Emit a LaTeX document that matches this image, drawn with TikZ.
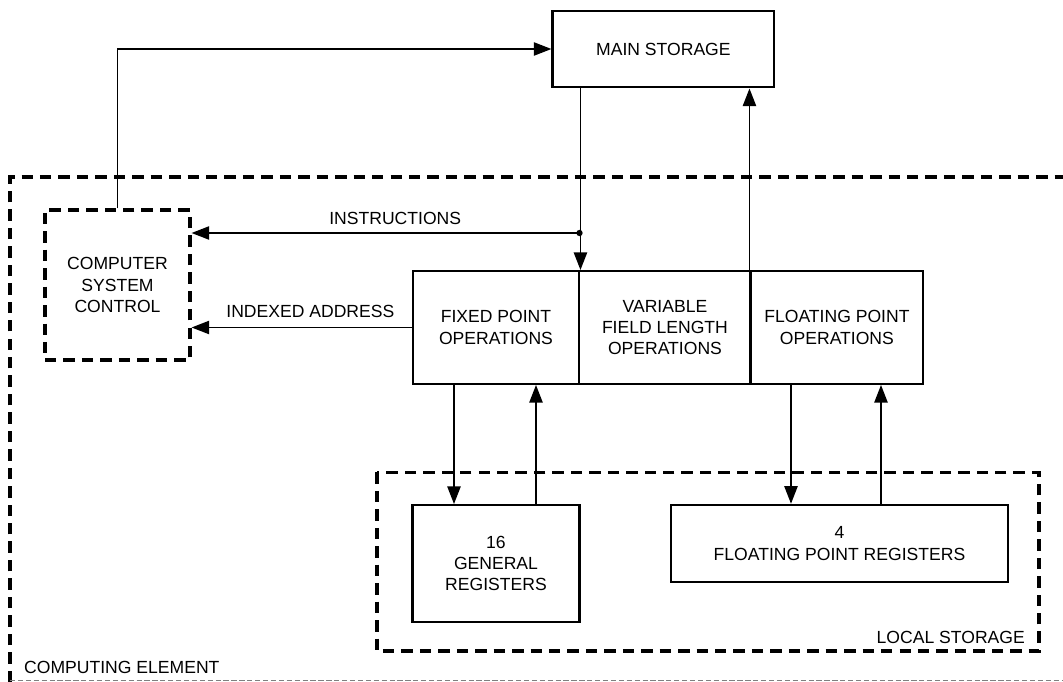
\documentclass[tikz,border=0pt]{standalone}
\usepackage{fontspec}
\setmainfont{Liberation Sans}
\usetikzlibrary{arrows.meta,positioning}

\tikzset{
  unit/.style={draw, line width=1.4pt, inner sep=0pt, align=center},
  ctrl/.style={draw, line width=1.8pt, dash pattern=on 6.5pt off 4pt, inner sep=0pt, align=center},
  zone/.style={line width=2pt, dash pattern=on 6.5pt off 4pt},
  flow/.style={line width=1pt, -{Triangle[length=10pt,width=7.5pt]}},
}

\begin{document}
\begin{tikzpicture}[x=0.02cm, y=-0.02cm, font=\fontsize{10}{12.2}\selectfont]
  \useasboundingbox (0,0) rectangle (1063,682);

  % computing element and local storage
  \draw[zone] (10,682) -- (10,177) -- (1080,177);
  \draw[line width=0.5pt, gray, dash pattern=on 3pt off 1.5pt] (10,680) -- (1080,680);
  \draw[zone] (377,472.5) rectangle (1039,651);
  \node[anchor=west] (ce) at (18,667) {COMPUTING ELEMENT};
  \node[anchor=east] (ls) at (1031,637) {LOCAL STORAGE};

  % units
  \node[unit, minimum width=4.43cm, minimum height=1.53cm] (ms) at (663.4,49) {MAIN STORAGE};
  \node[ctrl, minimum width=2.9cm, minimum height=3cm] (csc) at (117.5,285) {COMPUTER\\SYSTEM\\CONTROL};
  \node[unit, minimum width=3.33cm, minimum height=2.25cm] (fxp) at (496,327.5) {FIXED POINT\\OPERATIONS};
  \node[unit, minimum width=3.43cm, minimum height=2.25cm, right=-1.4pt of fxp] (vfl) {VARIABLE\\FIELD LENGTH\\OPERATIONS};
  \node[unit, minimum width=3.45cm, minimum height=2.25cm, right=-1.4pt of vfl] (flp) {FLOATING POINT\\OPERATIONS};
  \node[unit, minimum width=3.34cm, minimum height=2.33cm] (gr) at (496,563.5) {16\\GENERAL\\REGISTERS};
  \node[unit, minimum width=6.74cm, minimum height=1.54cm] (fpr) at (839.5,543.5) {4\\FLOATING POINT REGISTERS};

  % connectors
  \draw[flow] (csc.north) |- (ms.west);
  \draw[flow] (ms.south -| fxp.north east) -- (fxp.north east);
  \coordinate (jn) at (579.5,233);
  \fill (jn) circle (1.8pt);
  \draw[flow] (jn) -- node[above=1pt, pos=0.475] {INSTRUCTIONS} (jn -| csc.east);
  \draw[flow] (fxp.west) -- node[above=2pt, pos=0.46] {INDEXED ADDRESS} (fxp.west -| csc.east);
  \draw[flow] (flp.north west) -- (ms.south -| flp.north west);
  \draw[flow] (fxp.south -| 454,0) -- (gr.north -| 454,0);
  \draw[flow] (gr.north -| 536,0) -- (fxp.south -| 536,0);
  \draw[flow] (flp.south -| 791,0) -- (fpr.north -| 791,0);
  \draw[flow] (fpr.north -| 881,0) -- (flp.south -| 881,0);
\end{tikzpicture}
\end{document}
